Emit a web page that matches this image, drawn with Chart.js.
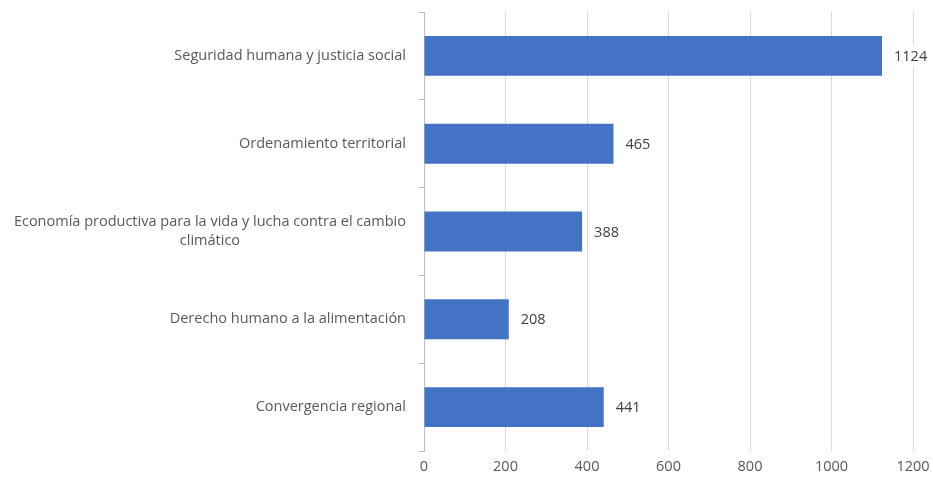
<!DOCTYPE html>
<html>
<head>
<meta charset="utf-8">
<script src="https://cdn.jsdelivr.net/npm/chart.js@4"></script>
<style>
  html, body { margin: 0; padding: 0; background: #fff; }
  #wrap { width: 933px; height: 479px; }
</style>
</head>
<body>
<div id="wrap"><canvas id="chart" width="933" height="479"></canvas></div>
<script>
const categories = [
  ['Seguridad humana y justicia social'],
  ['Ordenamiento territorial'],
  ['Economía productiva para la vida y lucha contra el cambio', 'climático'],
  ['Derecho humano a la alimentación'],
  ['Convergencia regional']
]
const values = [1124, 465, 388, 208, 441]
const xTicks = [0, 200, 400, 600, 800, 1000, 1200]

const FONT = '"Open Sans", "Noto Sans", sans-serif'
const FSIZE = 14.5
const TXT = '#595959'

// y labels: right aligned block, extra lines centred under the first one
const yLabels = {
  id: 'yLabels',
  afterDraw(chart) {
    const ctx = chart.ctx
    const y = chart.scales.y
    const right = y.right - 18
    ctx.save()
    ctx.font = FSIZE + 'px ' + FONT
    ctx.fillStyle = TXT
    ctx.textBaseline = 'middle'
    ctx.textAlign = 'center'
    categories.forEach((lines, i) => {
      const py = y.getPixelForTick(i)
      const w = Math.max(...lines.map(l => ctx.measureText(l).width))
      const cx = right - w / 2
      const lh = 19
      const y0 = py - (lines.length - 1) * lh / 2
      lines.forEach((l, j) => ctx.fillText(l, cx, y0 + j * lh))
    })
    ctx.restore()
  }
}

// value labels with white box over gridlines
const valueLabels = {
  id: 'valueLabels',
  afterDatasetsDraw(chart) {
    const ctx = chart.ctx
    const meta = chart.getDatasetMeta(0)
    ctx.save()
    ctx.font = FSIZE + 'px ' + FONT
    ctx.textBaseline = 'middle'
    ctx.textAlign = 'left'
    meta.data.forEach((bar, i) => {
      const txt = String(values[i])
      const w = ctx.measureText(txt).width
      const x = bar.x + 12
      ctx.fillStyle = '#fff'
      ctx.fillRect(x - 4, bar.y - 11, w + 8, 22)
      ctx.fillStyle = '#404040'
      ctx.fillText(txt, x, bar.y + 1)
    })
    ctx.restore()
  }
}

const data = {
  labels: categories.map(c => c.join(' ')),
  datasets: [{
    data: values,
    backgroundColor: '#4472C4',
    borderWidth: 0,
    barPercentage: 0.455,
    categoryPercentage: 1
  }]
}

const options = {
  indexAxis: 'y',
  responsive: false,
  animation: false,
  layout: { padding: { top: 12, right: 20, left: 0, bottom: 0 } },
  plugins: { legend: { display: false }, tooltip: { enabled: false } },
  scales: {
    x: {
      min: 0,
      max: 1200,
      afterBuildTicks(scale) { scale.ticks = xTicks.map(v => ({ value: v })) },
      afterFit(scale) {
        scale.height = 28
        scale.paddingLeft = 0
        scale.paddingRight = 0
      },
      grid: { color: '#d9d9d9', lineWidth: 1, tickLength: 0 },
      border: { display: false },
      ticks: {
        color: TXT,
        font: { family: FONT, size: FSIZE },
        padding: 7,
        callback: v => String(v)
      }
    },
    y: {
      afterFit(scale) { scale.width = 424 },
      grid: { offset: true, drawOnChartArea: false, color: '#bfbfbf', tickLength: 5 },
      border: { color: '#bfbfbf' },
      ticks: { display: false }
    }
  }
}

new Chart(document.getElementById('chart'), {
  type: 'bar',
  data: data,
  options: options,
  plugins: [yLabels, valueLabels]
})
</script>
</body>
</html>
